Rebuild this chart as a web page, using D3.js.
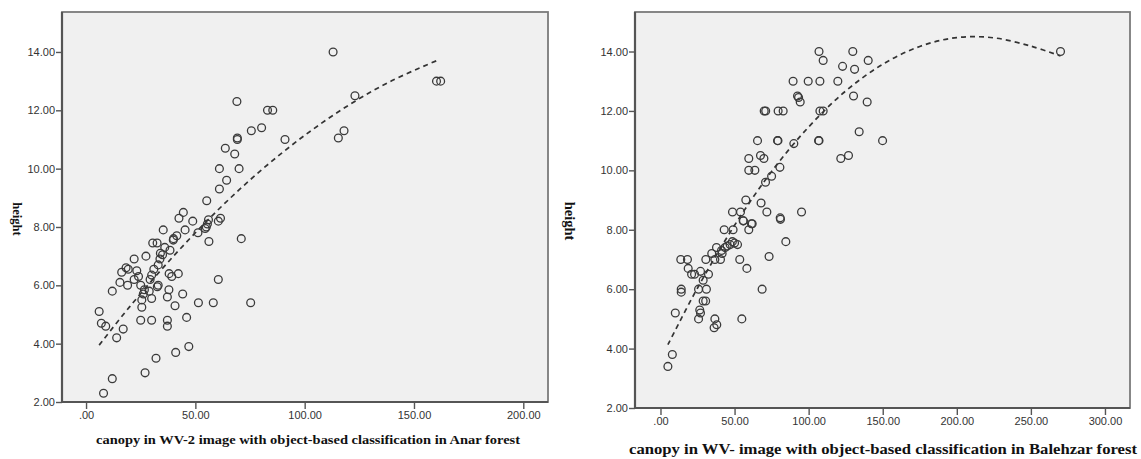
<!DOCTYPE html>
<html><head><meta charset="utf-8">
<script src="https://cdn.jsdelivr.net/npm/d3@7"></script>
<style>body{margin:0;background:#fff}svg{display:block}</style>
</head><body>
<svg id="c" width="1141" height="459"></svg>
<script>
// ---------- data: Anar forest (left) ----------
const anarX = [6,7,9,12,14,17,12,8,27,32,41,47,15.5,19,16.3,18.3,19.3,22,23.2,24,22,25,26.7,26.2,25.5,25.5,25,30,27.4,28.9,30,32.6,30.5,32.5,29.3,30,31,33,33.8,35,38.4,39.9,41.5,35.3,33,38,39.2,42.2,37.9,37.2,44.2,40.7,46,37.2,37.2,45.3,51.2,56.2,44.5,42.5,48.8,55,55.5,56,54.5,60.5,61.5,55.2,61,64.3,61,70,68,63.7,69.2,69.2,75.6,80.3,91,69,83,85.4,113,160.3,162.2,123,118,115.4,51.4,58.2,60.5,71,75.3,36,34,40];
const anarY = [5.1,4.7,4.6,5.8,4.2,4.5,2.8,2.3,3.0,3.5,3.7,3.9,6.1,6.0,6.45,6.6,6.55,6.9,6.5,6.3,6.2,6.0,5.85,5.7,5.5,5.25,4.8,4.8,7.0,5.8,5.55,5.95,7.45,7.45,6.2,6.35,6.55,6.7,6.9,7.05,7.2,7.55,7.7,7.9,6.0,6.4,6.3,6.4,5.85,5.6,5.7,5.3,4.9,4.8,4.6,7.9,7.8,7.5,8.5,8.3,8.2,8.0,8.1,8.25,7.95,8.2,8.3,8.9,9.3,9.6,10.0,10.0,10.5,10.7,11.0,11.05,11.3,11.4,11.0,12.3,12.0,12.0,14.0,13.0,13.0,12.5,11.3,11.05,5.4,5.4,6.2,7.6,5.4,7.3,7.1,7.6];
const anarFitX = [6,20,40,60,80,100,120,140,161];
const anarFitY = [3.95,5.27,7.0,8.56,9.94,11.14,12.17,13.02,13.72];

// ---------- data: Balehzar forest (right) ----------
const balX = [5,8,10,14,14,13.7,18.2,18.7,21,23,27,25.7,31,28.8,32.4,25.7,26.5,27,28.8,30.5,36.2,38,36.7,30.6,34.6,37.8,40.5,41.6,43.6,43,49,45,47,48.5,50,52,53.5,58.3,54.9,59.6,61.9,56,68.6,73.3,84.6,81,107,109.8,129.8,122.9,131,89.5,99.7,107.6,119.7,92.5,93.2,94.3,70,71,79.4,82.8,107.6,109.8,130.3,65.5,79,79.3,106.7,107,90,59.6,67.5,69.8,59.6,63.7,80.6,75,70.9,121.7,126.9,134.1,57.6,67.9,71.8,95.2,80.8,48.6,54,55.8,61.4,140.2,139.5,149.9,270,41.2,36.7];
const balY = [3.4,3.8,5.2,6.0,5.9,7.0,7.0,6.7,6.5,6.5,6.6,6.0,6.0,6.3,6.5,5.0,5.3,5.2,5.6,5.6,4.7,4.8,5.0,7.0,7.2,7.4,7.0,7.2,7.4,8.0,8.0,7.45,7.5,7.6,7.55,7.5,7.0,6.7,5.0,8.0,8.2,8.3,6.0,7.1,7.6,8.35,14.0,13.7,14.0,13.5,13.4,13.0,13.0,13.0,13.0,12.5,12.45,12.3,12.0,12.0,12.0,12.0,12.0,12.0,12.5,11.0,11.0,11.0,11.0,11.0,10.9,10.4,10.5,10.4,10.0,10.0,10.1,9.8,9.6,10.4,10.5,11.3,9.0,8.9,8.6,8.6,8.4,8.6,8.6,8.3,8.2,13.7,12.3,11.0,14.0,7.3,7.0];
const balFitX = [5,25,50,75,100,125,150,175,200,225,250,270];
const balFitY = [4.13,6.04,8.15,9.96,11.46,12.67,13.57,14.17,14.47,14.46,14.18,13.85];

// ---------- tick labels ----------
const yTicks = [2,4,6,8,10,12,14];
const anarXTicks = [0,50,100,150,200];
const balXTicks = [0,50,100,150,200,250,300];
const fmt = v => v === 0 ? ".00" : v.toFixed(2);

const svg = d3.select("#c");

function panel(cfg){
  const g = svg.append("g");
  const x = d3.scaleLinear().domain(cfg.xDomain).range([cfg.x0, cfg.x1]);
  const y = d3.scaleLinear().domain(cfg.yDomain).range([cfg.y1, cfg.y0]);
  g.append("rect").attr("x",cfg.x0).attr("y",cfg.y0)
    .attr("width",cfg.x1-cfg.x0).attr("height",cfg.y1-cfg.y0)
    .attr("fill","#f0f0f0").attr("stroke","#7a7a7a").attr("stroke-width",1.8);

  // fit line
  const pts = cfg.fitX.map((v,i)=>[v,cfg.fitY[i]]);
  g.append("path").datum(pts)
    .attr("d", d3.line().x(d=>x(d[0])).y(d=>y(d[1])).curve(d3.curveCatmullRom))
    .attr("fill","none").attr("stroke","#333").attr("stroke-width",1.7)
    .attr("stroke-dasharray","5,4");

  // points
  g.selectAll("circle.p").data(cfg.px.map((v,i)=>[v,cfg.py[i]])).enter()
    .append("circle").attr("cx",d=>x(d[0])).attr("cy",d=>y(d[1])).attr("r",3.9)
    .attr("fill","none").attr("stroke","#3a3a3a").attr("stroke-width",1.3);

  // axes
  const ya = g.append("g").attr("transform",`translate(${cfg.x0},0)`)
    .call(d3.axisLeft(y).tickValues(yTicks).tickFormat(fmt).tickSize(6).tickPadding(1));
  const xa = g.append("g").attr("transform",`translate(0,${cfg.y1})`)
    .call(d3.axisBottom(x).tickValues(cfg.xTicks).tickFormat(fmt).tickSize(7).tickPadding(2));
  [ya,xa].forEach(a=>{
    a.select(".domain").attr("stroke","#555").attr("stroke-width",2.2);
    a.selectAll(".tick line").attr("stroke","#555").attr("stroke-width",1.4);
    a.selectAll(".tick text").attr("fill","#333")
      .style("font-family","'Liberation Sans', Arial, sans-serif").style("font-size","11px");
  });
  ya.select(".domain").attr("d",`M0,${cfg.y1}V${cfg.y0}`);
  xa.select(".domain").attr("d",`M${cfg.x0},0H${cfg.x1}`);

  // titles
  g.append("text").attr("x",cfg.xtX).attr("y",cfg.xtY).attr("text-anchor","middle")
    .attr("textLength",cfg.xtW).attr("lengthAdjust","spacingAndGlyphs")
    .style("font-family","'Liberation Serif','Times New Roman',serif").style("font-weight","bold")
    .style("font-size",cfg.xtSize+"px").attr("fill","#111").text(cfg.xTitle);
  g.append("text").attr("transform",`translate(${cfg.ytX},${cfg.ytY}) rotate(90)`)
    .attr("text-anchor","middle").attr("dy","0.35em")
    .style("font-family","'Liberation Serif','Times New Roman',serif").style("font-weight","bold")
    .style("font-size",cfg.ytSize+"px").attr("fill","#111").text("height");
}

panel({x0:62,x1:548,y0:12,y1:402,xDomain:[-11,211.3],yDomain:[2,15.37],
  px:anarX,py:anarY,fitX:anarFitX,fitY:anarFitY,xTicks:anarXTicks,
  xTitle:"canopy in WV-2 image with object-based classification in Anar forest",
  xtX:308,xtY:444,xtW:424,xtSize:12.5,ytX:17,ytY:219,ytSize:12.5});

panel({x0:635,x1:1130,y0:12,y1:408,xDomain:[-17.2,316.9],yDomain:[2,15.33],
  px:balX,py:balY,fitX:balFitX,fitY:balFitY,xTicks:balXTicks,
  xTitle:"canopy in WV- image with object-based classification in Balehzar forest",
  xtX:883,xtY:454,xtW:508,xtSize:14,ytX:570,ytY:221,ytSize:14.5});
</script>
</body></html>
